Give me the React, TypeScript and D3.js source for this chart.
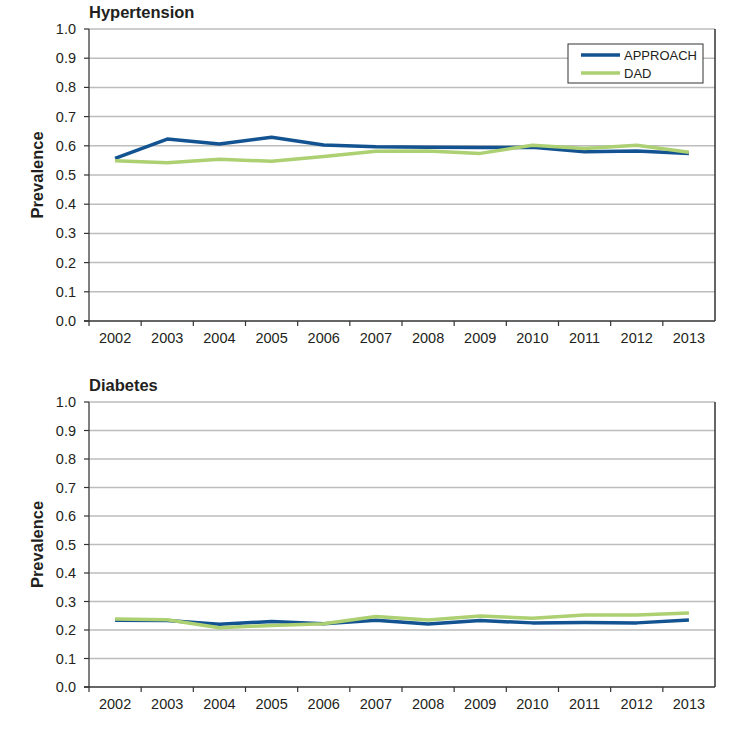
import React from 'react';
import * as d3 from 'd3';

const years = ['2002', '2003', '2004', '2005', '2006', '2007', '2008', '2009', '2010', '2011', '2012', '2013'];
const yTicks = [0, 0.1, 0.2, 0.3, 0.4, 0.5, 0.6, 0.7, 0.8, 0.9, 1.0];

const htnApproach = [0.557, 0.623, 0.606, 0.629, 0.603, 0.597, 0.595, 0.594, 0.595, 0.58, 0.582, 0.574];
const htnDad = [0.549, 0.542, 0.554, 0.547, 0.563, 0.581, 0.582, 0.574, 0.602, 0.591, 0.602, 0.578];
const diaApproach = [0.234, 0.233, 0.22, 0.23, 0.222, 0.234, 0.221, 0.233, 0.225, 0.226, 0.225, 0.235];
const diaDad = [0.239, 0.236, 0.208, 0.216, 0.222, 0.247, 0.235, 0.249, 0.241, 0.253, 0.253, 0.26];

const seriesNames = ['APPROACH', 'DAD'];
const colors = ['#135391', '#acd072'];

const FONT = '"Liberation Sans", Arial, Helvetica, sans-serif';
const TEXT = '#231f20';

type PanelProps = {
  title: string;
  top: number;
  bottom: number;
  series: number[][];
  legend?: boolean;
};

const Panel = ({ title, top, bottom, series, legend }: PanelProps) => {
  const left = 89;
  const right = 715;
  const x = d3.scaleBand().domain(years).range([left, right]);
  const y = d3.scaleLinear().domain([0, 1]).range([bottom, top]);
  const line = d3
    .line<number>()
    .x((_, i) => (x(years[i]) as number) + x.bandwidth() / 2)
    .y(d => y(d));

  return (
    <g>
      <text x={left} y={top - 11} fontFamily={FONT} fontWeight="bold" fontSize={16.5} fill={TEXT}>
        {title}
      </text>
      {/* gridlines */}
      {yTicks.slice(1).map(t => (
        <line key={t} x1={left} x2={right} y1={y(t)} y2={y(t)} stroke="#bdbdbd" strokeWidth={1.5} />
      ))}
      {/* frame */}
      <line x1={right} x2={right} y1={top} y2={bottom} stroke="#333" strokeWidth={1.5} />
      <line x1={left} x2={left} y1={top} y2={bottom} stroke="#555" strokeWidth={1.5} />
      <line x1={left - 5} x2={right} y1={bottom} y2={bottom} stroke="#333" strokeWidth={1.5} />
      {/* y ticks */}
      {yTicks.map(t => (
        <g key={t}>
          <line x1={left - 5} x2={left} y1={y(t)} y2={y(t)} stroke="#333" strokeWidth={1.2} />
          <text x={76} y={y(t)} dy="0.35em" textAnchor="end" fontFamily={FONT} fontSize={14.5} fill={TEXT}>
            {t.toFixed(1)}
          </text>
        </g>
      ))}
      {/* x ticks at band edges */}
      {years.map(yr => (
        <line key={'t' + yr} x1={x(yr) as number} x2={x(yr) as number} y1={bottom} y2={bottom + 5} stroke="#333" strokeWidth={1.2} />
      ))}
      {years.map(yr => (
        <text
          key={yr}
          x={(x(yr) as number) + x.bandwidth() / 2}
          y={bottom + 22}
          textAnchor="middle"
          fontFamily={FONT}
          fontSize={14.5}
          fill={TEXT}
        >
          {yr}
        </text>
      ))}
      <text
        transform={`translate(43,${(top + bottom) / 2}) rotate(-90)`}
        textAnchor="middle"
        fontFamily={FONT}
        fontWeight="bold"
        fontSize={16.5}
        fill={TEXT}
      >
        Prevalence
      </text>
      {series.map((s, i) => (
        <path key={i} d={line(s) as string} fill="none" stroke={colors[i]} strokeWidth={3.5} strokeLinejoin="round" />
      ))}
      {legend && (
        <g>
          <rect x={568} y={44} width={135} height={39} fill="#fff" stroke="#333" strokeWidth={1} />
          {seriesNames.map((n, i) => (
            <g key={n}>
              <line x1={581} x2={620} y1={55 + i * 18} y2={55 + i * 18} stroke={colors[i]} strokeWidth={3.5} />
              <text x={624} y={55 + i * 18} dy="0.35em" fontFamily={FONT} fontSize={13} fill={TEXT}>
                {n}
              </text>
            </g>
          ))}
        </g>
      )}
    </g>
  );
};

export default function App() {
  return (
    <div style={{ position: 'absolute', left: 0, top: 0 }}>
      <svg width={748} height={734} style={{ display: 'block', background: '#fff' }}>
        <Panel title="Hypertension" top={29} bottom={321} series={[htnApproach, htnDad]} legend />
        <Panel title="Diabetes" top={402} bottom={687} series={[diaApproach, diaDad]} />
      </svg>
    </div>
  );
}
